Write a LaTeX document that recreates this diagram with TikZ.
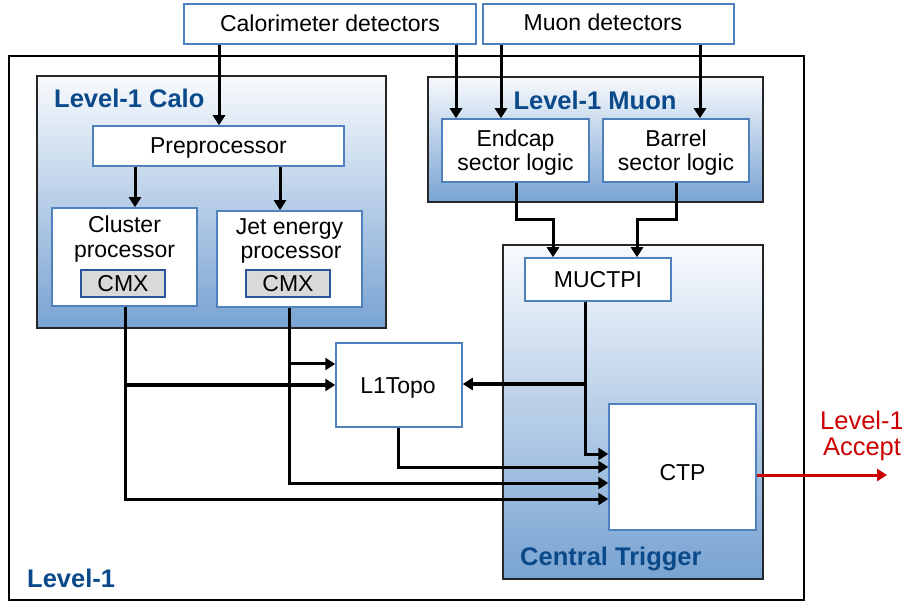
\documentclass[tikz,border=0pt]{standalone}
\usepackage{fontspec}
\setmainfont{Liberation Sans}
\usetikzlibrary{arrows.meta}
\definecolor{boxblue}{RGB}{79,129,189}
\definecolor{cmxblue}{RGB}{40,85,155}
\definecolor{cmxgray}{RGB}{217,217,217}
\definecolor{titleblue}{RGB}{10,74,138}
\definecolor{gradtop}{RGB}{248,250,253}
\definecolor{gradbot}{RGB}{120,163,210}
\definecolor{accred}{RGB}{204,0,0}
\begin{document}
\begin{tikzpicture}[x=1pt,y=-1pt,
  body/.style={font=\fontsize{23}{25}\selectfont},
  txt/.style={body, inner sep=0pt, anchor=base},
  blk/.style={draw=boxblue, line width=1.5pt, fill=white, inner sep=0pt, align=center, body},
  cmxbox/.style={draw=cmxblue, line width=2pt, fill=cmxgray, inner sep=0pt, body},
  grp/.style={draw=black!85, line width=2pt, top color=gradtop, bottom color=gradbot, inner sep=0pt},
  ttl/.style={font=\fontsize{25.5}{27}\selectfont\bfseries, text=titleblue, inner sep=0pt},
  arr/.style={line width=3pt, -{Triangle[length=10pt,width=12pt]}},
  wire/.style={line width=3pt},
]
\useasboundingbox (0,0) rectangle (902,601);

% outer Level-1 frame
\node[draw=black, line width=1.5pt, minimum width=795pt, minimum height=544pt, inner sep=0pt] (lvl) at (406.5,328) {};
\node[ttl, anchor=base west] (lvlt) at (27,587) {Level-1};

% groups
\node[grp, minimum width=349pt, minimum height=252pt] (calo) at (211.5,202) {};
\node[ttl, anchor=base west] (calot) at (54,107.5) {Level-1 Calo};
\node[grp, minimum width=335pt, minimum height=125pt] (muon) at (595.5,139.5) {};
\node[ttl, anchor=base] (muont) at (595,110) {Level-1 Muon};
\node[grp, minimum width=260pt, minimum height=334pt] (ct) at (633,412) {};
\node[ttl, anchor=base west] (ctt) at (520,565) {Central Trigger};

% detectors
\node[blk, minimum width=292pt, minimum height=40pt] (cal) at (330,24) {};
\node[txt] (calx) at (330,32) {Calorimeter detectors};
\node[blk, minimum width=251pt, minimum height=40pt] (mud) at (608.5,24) {};
\node[txt] (mudx) at (603,31) {Muon detectors};

% calo
\node[blk, minimum width=251pt, minimum height=40pt] (pre) at (218.5,146) {};
\node[txt] (prex) at (218.5,154) {Preprocessor};
\node[blk, minimum width=145pt, minimum height=98pt] (clu) at (124.5,257) {};
\node[txt] (clu1) at (124.5,233) {Cluster};
\node[txt] (clu2) at (124.5,258) {processor};
\node[blk, minimum width=145pt, minimum height=96pt] (jet) at (289.5,259) {};
\node[txt] (jet1) at (289.5,235) {Jet energy};
\node[txt] (jet2) at (291,259) {processor};
\node[cmxbox, minimum width=84pt, minimum height=27pt] (cmx1) at (123,283.5) {};
\node[txt] (cmx1x) at (123,292) {CMX};
\node[cmxbox, minimum width=84pt, minimum height=27pt] (cmx2) at (288,283.5) {};
\node[txt] (cmx2x) at (288,292) {CMX};

% muon
\node[blk, minimum width=147pt, minimum height=63pt] (endc) at (515.5,150.5) {};
\node[txt] (endc1) at (515.5,147) {Endcap};
\node[txt] (endc2) at (515.5,171) {sector logic};
\node[blk, minimum width=146pt, minimum height=63pt] (barr) at (676,150.5) {};
\node[txt] (barr1) at (676,147) {Barrel};
\node[txt] (barr2) at (676,171) {sector logic};

% central trigger
\node[blk, minimum width=146pt, minimum height=43pt] (muctpi) at (598,279.5) {};
\node[txt] (muctpix) at (598,288) {MUCTPI};
\node[blk, minimum width=126pt, minimum height=84pt] (topo) at (399,385) {};
\node[txt] (topox) at (398,393) {L1Topo};
\node[blk, minimum width=147pt, minimum height=126pt] (ctp) at (682.5,467) {};
\node[txt] (ctpx) at (682.5,480) {CTP};

% helper coordinates
\coordinate (xa) at (456,0);
\coordinate (xb) at (501,0);
\coordinate (xc) at (700,0);
\coordinate (xpre) at (219,0);
\coordinate (xd) at (135,0);
\coordinate (xe) at (280,0);
\coordinate (xcl) at (125,0);
\coordinate (xjt) at (289,0);
\coordinate (xec) at (516,0);
\coordinate (xbr) at (676,0);
\coordinate (xml) at (553,0);
\coordinate (xmr) at (637,0);
\coordinate (xmu) at (585,0);
\coordinate (xlt) at (398,0);
\coordinate (yel) at (0,220);
\coordinate (yj) at (0,364);
\coordinate (yc) at (0,385);
\coordinate (ym) at (0,384);
\coordinate (c1) at (0,454);
\coordinate (c2) at (0,467);
\coordinate (c3) at (0,483);
\coordinate (c4) at (0,499);
\coordinate (ya) at (0,475);
\coordinate (acc) at (887,475);

% detector inputs
\draw[arr] (xpre |- cal.south) -- (xpre |- pre.north);
\draw[arr] (xa |- cal.south) -- (xa |- endc.north);
\draw[arr] (xb |- mud.south) -- (xb |- endc.north);
\draw[arr] (xc |- mud.south) -- (xc |- barr.north);

% preprocessor outputs
\draw[arr] (xd |- pre.south) -- (xd |- clu.north);
\draw[arr] (xe |- pre.south) -- (xe |- jet.north);

% muon sector logic to MUCTPI
\draw[arr] (xec |- endc.south) -- (xec |- yel) -- (xml |- yel) -- (xml |- muctpi.north);
\draw[arr] (xbr |- barr.south) -- (xbr |- yel) -- (xmr |- yel) -- (xmr |- muctpi.north);

% cluster processor
\draw[arr] (xcl |- clu.south) -- (xcl |- c4) -- (ctp.west |- c4);
\draw[arr] (xcl |- yc) -- (topo.west |- yc);
% jet energy processor
\draw[arr] (xjt |- jet.south) -- (xjt |- c3) -- (ctp.west |- c3);
\draw[arr] (xjt |- yj) -- (topo.west |- yj);
% L1Topo to CTP
\draw[arr] (xlt |- topo.south) -- (xlt |- c2) -- (ctp.west |- c2);
% MUCTPI
\draw[arr] (xmu |- muctpi.south) -- (xmu |- c1) -- (ctp.west |- c1);
\draw[arr] (xmu |- ym) -- (topo.east |- ym);

% Level-1 Accept
\draw[arr, draw=accred, fill=accred] (ctp.east |- ya) -- (acc);
\node[txt, text=accred, font=\fontsize{25.5}{26}\selectfont] (acc1) at (862,429) {Level-1};
\node[txt, text=accred, font=\fontsize{25.5}{26}\selectfont] (acc2) at (862,455) {Accept};
\end{tikzpicture}
\end{document}
